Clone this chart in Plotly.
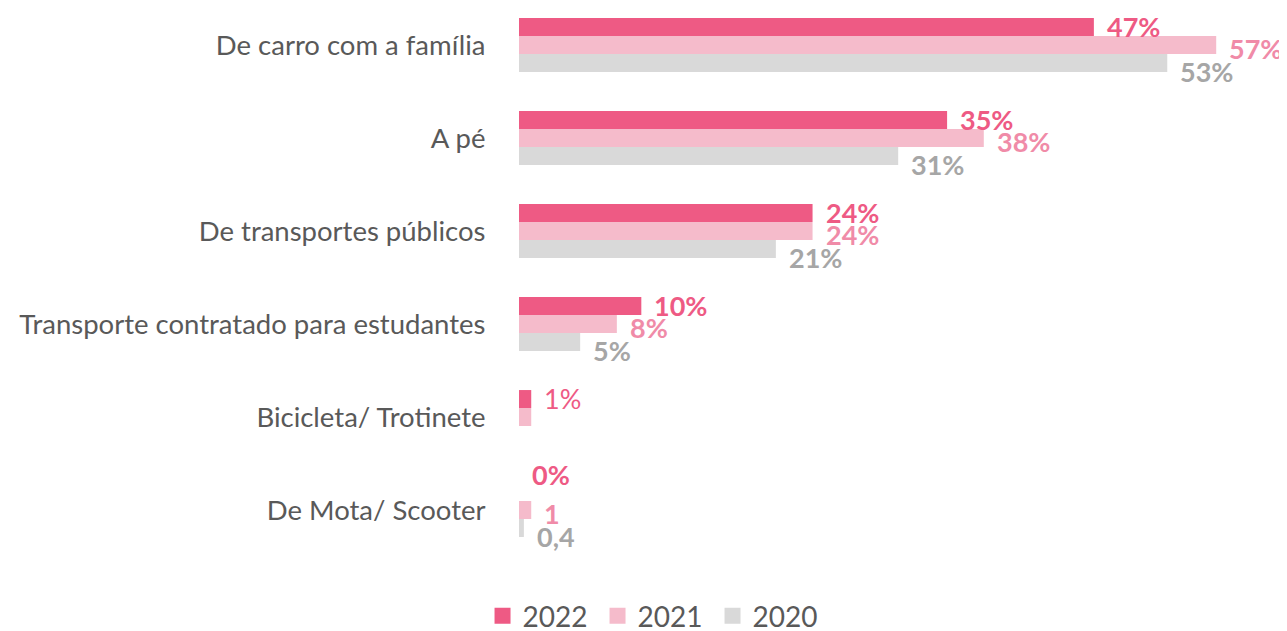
import plotly.graph_objects as go

categories = ["De carro com a família", "A pé", "De transportes públicos",
              "Transporte contratado para estudantes", "Bicicleta/ Trotinete", "De Mota/ Scooter"]
series_names = ["2022", "2021", "2020"]
v2022 = [47, 35, 24, 10, 1, 0]
v2021 = [57, 38, 24, 8, 1, 1]
v2020 = [53, 31, 21, 5, 0, 0.4]
labels2022 = ["47%", "35%", "24%", "10%", "1%", "0%"]
labels2021 = ["57%", "38%", "24%", "8%", "", "1"]
labels2020 = ["53%", "31%", "21%", "5%", "", "0,4"]

bar_colors = ["#EE5A84", "#F5BBCB", "#D9D9D9"]
label_colors = ["#EE5A84", "#F08BA8", "#A6A6A6"]

values = [v2022, v2021, v2020]
labels = [labels2022, labels2021, labels2020]

FONT = "Lato"

fig = go.Figure()
for name, vals, col in zip(series_names, values, bar_colors):
    fig.add_trace(go.Bar(
        y=categories, x=vals, name=name, orientation="h",
        marker=dict(color=col, line=dict(width=0)),
        hoverinfo="x+name", showlegend=False, legendgroup=name,
    ))
# legend entries with larger square swatches
for name, col in zip(series_names, bar_colors):
    fig.add_trace(go.Scatter(
        x=[None], y=[None], mode="markers", name=name, legendgroup=name,
        marker=dict(symbol="square", size=16, color=col, line=dict(width=0)),
        showlegend=True,
    ))

# bar pixel offsets within a group (2022 top, 2020 bottom) plus label drift
bar_shift = [18.6, 0, -18.6]
label_drift = [0, -3, -8]
for si in range(3):
    for ci, cat in enumerate(categories):
        txt = labels[si][ci]
        if not txt:
            continue
        ys = bar_shift[si] + label_drift[si]
        bold = True
        if si == 0 and ci == 4:
            bold = False
        if si == 0 and ci == 5:
            ys += 17
        fig.add_annotation(
            x=values[si][ci], y=cat, xref="x", yref="y",
            text=txt, showarrow=False, xanchor="left", yanchor="middle",
            xshift=11, yshift=ys,
            font=dict(family=FONT, size=27, color=label_colors[si],
                      weight="bold" if bold else "normal"),
        )

fig.update_layout(
    width=1287, height=631,
    barmode="group", bargap=0.42, bargroupgap=0,
    plot_bgcolor="white", paper_bgcolor="white",
    margin=dict(l=511, r=47, t=0, b=73, autoexpand=False),
    font=dict(family=FONT, color="#595959"),
    xaxis=dict(range=[0, 59.6], visible=False, showgrid=False, zeroline=False),
    yaxis=dict(range=[5.602, -0.398], showgrid=False, zeroline=False, showline=False,
               ticks="outside", ticklen=27, tickcolor="rgba(0,0,0,0)",
               tickfont=dict(family=FONT, size=27.5, color="#595959")),
    showlegend=True,
    legend=dict(orientation="h", x=0.1866, xanchor="center",
                y=-0.0896, yanchor="middle",
                font=dict(family=FONT, size=28, color="#595959"),
                traceorder="normal", itemwidth=30, entrywidth=70),
)

fig.write_html("out.html")
